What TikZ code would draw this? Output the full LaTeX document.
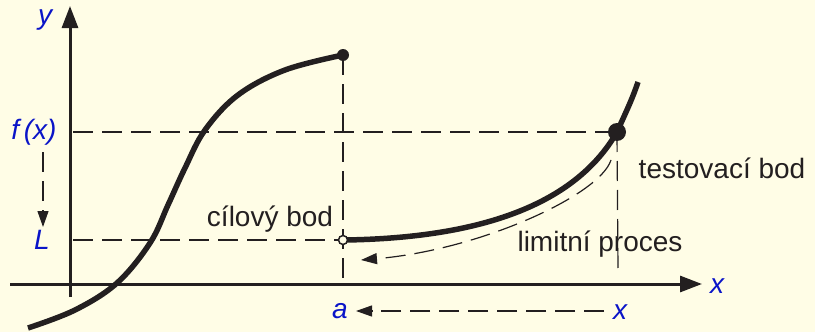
\documentclass[tikz,border=0pt]{standalone}
\usepackage{fontspec}
\setmainfont{Liberation Sans}
\usetikzlibrary{arrows.meta}
\definecolor{bg}{HTML}{FFFDE6}
\definecolor{lblue}{HTML}{0A14C8}
\definecolor{ink}{HTML}{231F20}
\begin{document}
\begin{tikzpicture}[x=1pt,y=-1pt,
  axis/.style={line width=3pt, draw=ink, -{Triangle[length=22pt,width=16pt]}},
  guide/.style={line width=1.2pt, draw=ink, dash pattern=on 20pt off 9pt},
  curve/.style={line width=5.5pt, draw=ink},
  lbl/.style={font=\fontsize{28}{32}\selectfont, text=ink, inner sep=0pt},
  mlbl/.style={font=\fontsize{28}{32}\selectfont\itshape, text=lblue, inner sep=0pt},
  darrow/.style={guide, -{Triangle[length=16pt,width=11pt]}}]
\fill[bg] (0,0) rectangle (815,332);
\useasboundingbox (0,0) rectangle (815,332);
% coordinates
\coordinate (xs) at (10,284);
\coordinate (xe) at (702,284);
\coordinate (ys) at (70,297);
\coordinate (ye) at (70,6);
\coordinate (fxl) at (73,132);
\coordinate (T) at (617,132);
\coordinate (Tb) at (618,270);
\coordinate (P) at (343,55);
\coordinate (Pa) at (343,284);
\coordinate (Ll) at (73,240);
\coordinate (O) at (343,240);
\coordinate (vs) at (43,152);
\coordinate (ve) at (43,227);
\coordinate (hs) at (604,311);
\coordinate (he) at (356,311);
% guides
\draw[guide] (fxl) -- (T);
\draw[guide] (T) -- (Tb);
\draw[guide] (P) -- (Pa);
\draw[guide] (Ll) -- (O);
% axes
\draw[axis] (xs) -- (xe);
\draw[axis] (ys) -- (ye);
% left curve
\draw[curve, line cap=butt] plot[smooth, tension=0.6] coordinates {(28,328) (75,310) (117,283) (150,243) (168,205) (185,168) (205,130) (238,95) (285,70) (343,55)};
% right curve
\coordinate (R0) at (345,240);
\coordinate (Rt) at (638,82);
\draw[curve] (R0) .. controls (480,238) and (575,205) .. (T) .. controls (625,114) and (632,100) .. (Rt);
% limit process dashed curve
\coordinate (ds) at (611,160);
\coordinate (de) at (361,260);
\draw[darrow] (ds) .. controls (600,195) and (480,250) .. (de);
% dots
\fill[ink] (P) circle (6pt);
\fill[ink] (T) circle (9pt);
\draw[ink, line width=1.5pt, fill=bg] (O) circle (4.5pt);
% value arrows
\draw[darrow] (vs) -- (ve);
\draw[darrow] (hs) -- (he);
% labels
\node[mlbl] (ylab) at (45,20) {y};
\node[mlbl] (xlab) at (717,286) {x};
\node[mlbl] (fxlab) at (34,132) {f\,(x)};
\node[mlbl] (Llab) at (42,240) {L};
\node[mlbl] (alab) at (340,311) {a};
\node[mlbl] (x2lab) at (620,312) {x};
\node[lbl] (cil) at (270,219) {cílový bod};
\node[lbl] (test) at (722,168) {testovací bod};
\node[lbl] (lim) at (600,244) {limitní proces};
\end{tikzpicture}
\end{document}
